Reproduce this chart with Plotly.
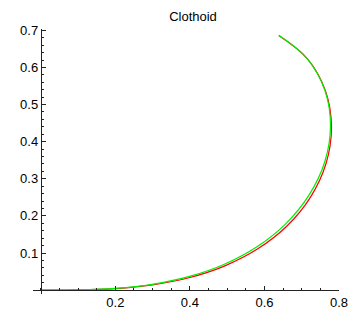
import plotly.graph_objects as go

red_x = [0.0, 0.09999, 0.19992, 0.29940, 0.39748, 0.49234, 0.58110, 0.65977,
         0.72284, 0.76482, 0.77989, 0.76381, 0.71544, 0.63855]
red_y = [0.0, 0.00052, 0.00419, 0.01412, 0.03336, 0.06473, 0.11054, 0.17214,
         0.24934, 0.33978, 0.43826, 0.53650, 0.62340, 0.68632]

green_x = [0.0, 0.1000, 0.1998, 0.2990, 0.3966, 0.4910, 0.5790, 0.6570,
           0.7195, 0.7617, 0.7772, 0.7622, 0.7146, 0.6385]
green_y = [0.0, 0.0007, 0.0048, 0.0156, 0.0362, 0.0692, 0.1162, 0.1787,
           0.2560, 0.3452, 0.4420, 0.5385, 0.6240, 0.6865]

x_ticks = [0.2, 0.4, 0.6, 0.8]
y_ticks = [0.1, 0.2, 0.3, 0.4, 0.5, 0.6, 0.7]
title = "Clothoid"

FONT = "Liberation Sans, Arial, sans-serif"
AX = "#222222"

xr = [-0.0208, 0.8]
yr = [-0.0104, 0.7036]

fig = go.Figure()
fig.add_trace(go.Scatter(x=red_x, y=red_y, mode="lines",
                         line=dict(color="#ff0000", width=1.2, shape="spline"),
                         hoverinfo="skip"))
fig.add_trace(go.Scatter(x=green_x, y=green_y, mode="lines",
                         line=dict(color="#00ee00", width=1.2, shape="spline"),
                         hoverinfo="skip"))

fig.update_layout(
    width=358, height=320,
    margin=dict(l=33, r=10, t=29, b=17),
    paper_bgcolor="white", plot_bgcolor="white",
    showlegend=False,
    title=dict(text=title, x=193 / 358, xref="container", xanchor="center",
               y=1 - 16 / 320, yref="container", yanchor="middle",
               font=dict(family=FONT, size=13, color="black")),
    font=dict(family=FONT, size=13, color="black"),
    xaxis=dict(range=xr, showgrid=False, zeroline=False, showline=True,
               linecolor=AX, linewidth=1, anchor="free",
               position=(0 - yr[0]) / (yr[1] - yr[0]),
               tickmode="array", tickvals=x_ticks,
               ticktext=[str(v) for v in x_ticks],
               ticks="inside", ticklen=4, tickcolor=AX, tickwidth=1,
               ticklabeloverflow="allow",
               minor=dict(tickmode="linear", tick0=0, dtick=0.05,
                          ticks="inside", ticklen=2, tickcolor=AX),
               tickfont=dict(family=FONT, size=13, color="black"),
               fixedrange=True),
    yaxis=dict(range=yr, showgrid=False, zeroline=False, showline=True,
               linecolor=AX, linewidth=1, anchor="free",
               position=(0 - xr[0]) / (xr[1] - xr[0]),
               tickmode="array", tickvals=y_ticks,
               ticktext=[str(v) for v in y_ticks],
               ticks="inside", ticklen=4, tickcolor=AX, tickwidth=1,
               minor=dict(tickmode="linear", tick0=0, dtick=0.02,
                          ticks="inside", ticklen=2, tickcolor=AX),
               tickfont=dict(family=FONT, size=13, color="black"),
               fixedrange=True),
)

fig.write_html("out.html", config={"displayModeBar": False},
               post_script="document.body.style.margin='0';")
